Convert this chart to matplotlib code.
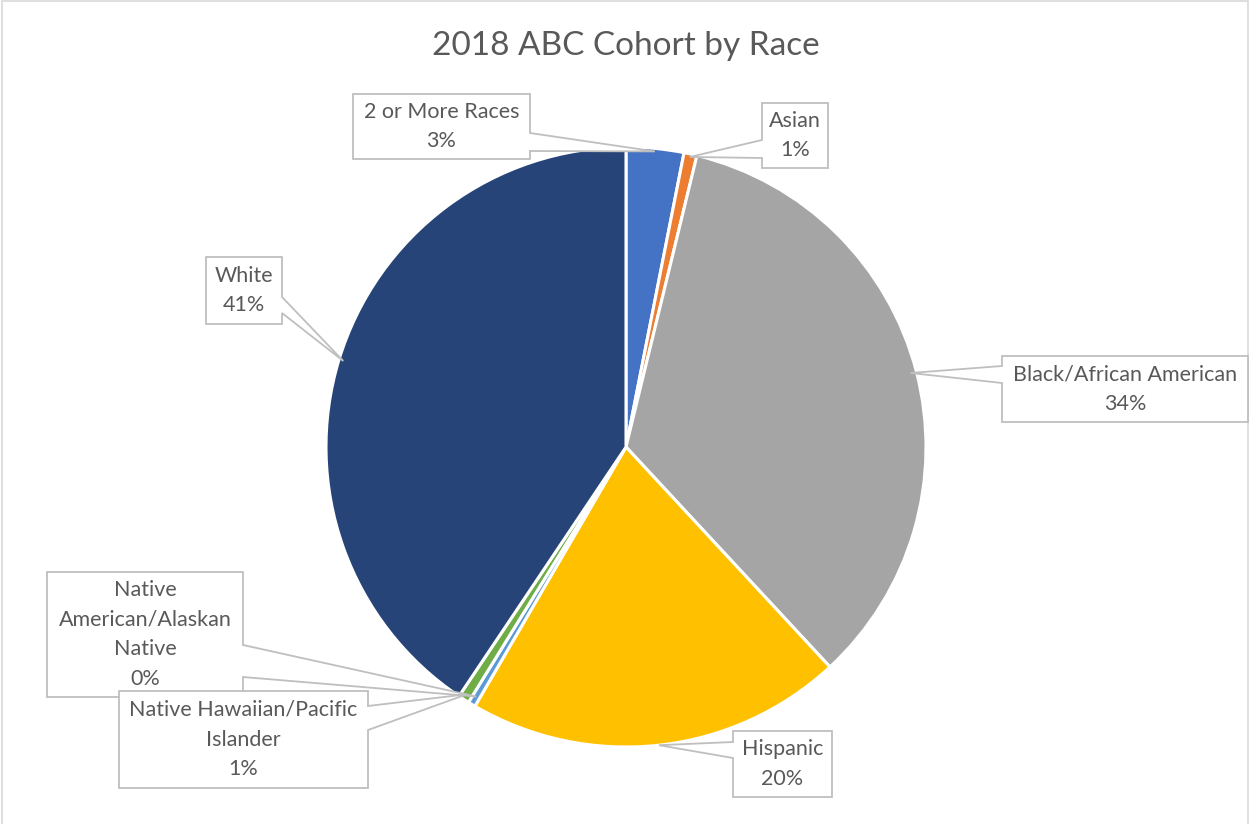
import matplotlib.pyplot as plt
from matplotlib.patches import Polygon, Rectangle
import numpy as np

# data
races = ["2 or More Races", "Asian", "Black/African American", "Hispanic",
         "Native American/Alaskan Native", "Native Hawaiian/Pacific Islander", "White"]
shares = [3.1, 0.7, 34.3, 20.3, 0.4, 0.6, 40.6]
colors = ["#4472C4", "#ED7D31", "#A5A5A5", "#FFC000", "#5B9BD5", "#70AD47", "#264478"]
label_texts = ["2 or More Races", "Asian", "Black/African American", "Hispanic",
               "Native\nAmerican/Alaskan\nNative", "Native Hawaiian/Pacific\nIslander", "White"]

W, H = 1250, 824
TXT = "#595959"
EDGE = "#BFBFBF"
plt.rcParams['font.family'] = ['Lato', 'DejaVu Sans']

# callout boxes in pixel coords (x0, y0, x1, y1), side and attach points
boxes = [
    ((353, 94, 530, 159), "right", (133, 151)),
    ((762, 103, 828, 168), "left", (140, 158)),
    ((1002, 356, 1248, 422), "left", (366, 383)),
    ((733, 731, 832, 797), "left", (742, 758)),
    ((47, 572, 243, 697), "right", (645, 677)),
    ((119, 691, 368, 788), "right", (706, 730)),
    ((206, 257, 282, 324), "right", (297, 313)),
]
tip_k = [0.99, 0.99, 0.98, 1.0, 0.97, 0.98, 0.985]

fig = plt.figure(figsize=(W / 100, H / 100), dpi=100)
ax = fig.add_axes([0, 0, 1, 1])

cx, cy, r = 626, H - 447, 300
wedges, _ = ax.pie(shares, colors=colors, startangle=90, counterclock=False,
                   center=(cx, cy), radius=r,
                   wedgeprops=dict(edgecolor="white", linewidth=2.2))
ax.set_xlim(0, W)
ax.set_ylim(0, H)
ax.set_aspect("equal")
ax.axis("off")

total = sum(shares)
for i, w in enumerate(wedges):
    mid = np.deg2rad((w.theta1 + w.theta2) / 2)
    tx = cx + r * tip_k[i] * np.cos(mid)
    ty = cy + r * tip_k[i] * np.sin(mid)
    (x0, y0, x1, y1), side, (a, b) = boxes[i]
    y0, y1, a, b = H - y0, H - y1, H - a, H - b
    if side == "right":
        pts = [(x0, y0), (x1, y0), (x1, a), (tx, ty), (x1, b), (x1, y1), (x0, y1)]
    else:
        pts = [(x0, y0), (x1, y0), (x1, y1), (x0, y1), (x0, b), (tx, ty), (x0, a)]
    ax.add_patch(Polygon(pts, closed=True, facecolor="white", edgecolor=EDGE,
                         linewidth=1.3, zorder=3 + i * 0.01))
    pct = f"{shares[i] / total * 100:.0f}%"
    ax.text((x0 + x1) / 2, (y0 + y1) / 2, label_texts[i] + "\n" + pct,
            ha="center", va="center", color=TXT, fontsize=15.5,
            linespacing=1.6, zorder=3.5 + i * 0.01)

ax.text(626, H - 46, "2018 ABC Cohort by Race", ha="center", va="center",
        color=TXT, fontsize=24)

ax.add_patch(Rectangle((2, -2), W - 4, H + 1, facecolor="none",
                       edgecolor="#D9D9D9", linewidth=1.2))

fig.savefig("out.png", dpi=100)
